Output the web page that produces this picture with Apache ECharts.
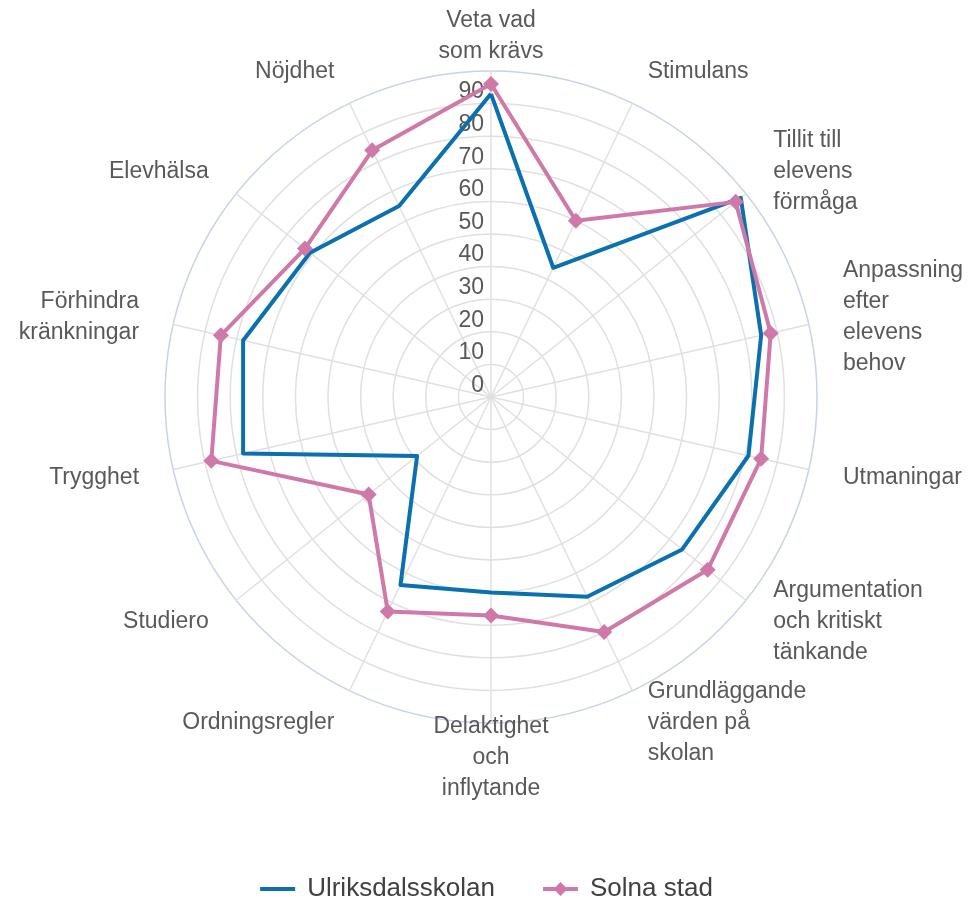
<!DOCTYPE html>
<html>
<head>
<meta charset="utf-8">
<script src="https://cdn.jsdelivr.net/npm/echarts@6/dist/echarts.min.js"></script>
<style>
html,body{margin:0;padding:0;background:#fff;}
#chart{width:973px;height:900px;}
</style>
</head>
<body>
<div id="chart"></div>
<script>
// Categories listed clockwise from the top, as in the reference
const categories = [
  "Veta vad\nsom krävs",
  "Stimulans",
  "Tillit till\nelevens\nförmåga",
  "Anpassning\nefter\nelevens\nbehov",
  "Utmaningar",
  "Argumentation\noch kritiskt\ntänkande",
  "Grundläggande\nvärden på\nskolan",
  "Delaktighet\noch\ninflytande",
  "Ordningsregler",
  "Studiero",
  "Trygghet",
  "Förhindra\nkränkningar",
  "Elevhälsa",
  "Nöjdhet"
];
const seriesNames = ["Ulriksdalsskolan", "Solna stad"];
const ulriksdalsskolan = [93, 44, 98, 85, 81, 75, 68, 60, 64, 29, 78, 78, 71, 65];
const solnaStad = [96, 60, 96, 88, 85, 85, 80, 67, 73, 48, 88, 85, 73, 84];
const axisMax = 100;
const tickLabels = [0, 10, 20, 30, 40, 50, 60, 70, 80, 90];

const FONT = "'Liberation Sans', Arial, Helvetica, sans-serif";
const BLUE = '#0a70ae';
const PINK = '#cf79a8';
const GRID = '#e0e0e0';
const OUTER = '#c8d2ea';

// ECharts radar runs counter-clockwise: reorder (first stays at top, rest reversed)
const order = [0];
for (let i = categories.length - 1; i >= 1; i--) order.push(i);
const pick = arr => order.map(i => arr[i]);

const indicator = pick(categories).map((c, i) => {
  const ind = { name: c, max: axisMax, min: 0 };
  if (i === 0) {
    ind.axisLabel = {
      show: true,
      formatter: function (v) { return tickLabels.indexOf(Number(v)) >= 0 ? String(v) : ''; }
    };
  }
  return ind;
});

const ringColors = [];
for (let i = 0; i < 10; i++) ringColors.push(GRID);
ringColors.push(OUTER);

const chart = echarts.init(document.getElementById('chart'), null, { renderer: 'canvas' });
chart.setOption({
  backgroundColor: '#ffffff',
  animation: false,
  textStyle: { fontFamily: FONT },
  legend: {
    data: [
      { name: seriesNames[0], icon: 'path://M0,5L35,5L35,9L0,9Z M17.5,0L17.5,0Z M17.5,14L17.5,14Z' },
      { name: seriesNames[1], icon: 'path://M0,5L35,5L35,9L0,9Z M17.5,0L24.5,7L17.5,14L10.5,7Z' }
    ],
    top: 871,
    left: 'center',
    itemWidth: 35,
    itemHeight: 14,
    itemGap: 48,
    textStyle: { fontFamily: FONT, fontSize: 26, color: '#404040', padding: [0, 0, 0, 7] }
  },
  radar: {
    center: [491, 397],
    radius: 326,
    shape: 'circle',
    startAngle: 90,
    splitNumber: 10,
    nameGap: 35,
    axisName: {
      color: '#595959',
      fontFamily: FONT,
      fontSize: 23,
      lineHeight: 31,
      verticalAlign: 'middle'
    },
    axisLabel: {
      show: false,
      color: '#595959',
      fontFamily: FONT,
      fontSize: 23,
      margin: 7,
      align: 'right',
      verticalAlign: 'bottom'
    },
    axisTick: { show: false },
    axisLine: { lineStyle: { color: GRID, width: 1.5 } },
    splitLine: { lineStyle: { color: ringColors, width: 1.5 } },
    splitArea: { show: false },
    indicator: indicator
  },
  series: [
    {
      type: 'radar',
      z: 2,
      data: [
        {
          name: seriesNames[0],
          value: pick(ulriksdalsskolan),
          symbol: 'none',
          lineStyle: { color: BLUE, width: 4 },
          itemStyle: { color: BLUE }
        }
      ]
    },
    {
      type: 'radar',
      z: 3,
      data: [
        {
          name: seriesNames[1],
          value: pick(solnaStad),
          symbol: 'diamond',
          symbolSize: 16,
          lineStyle: { color: PINK, width: 4 },
          itemStyle: { color: PINK }
        }
      ]
    }
  ]
});
</script>
</body>
</html>
